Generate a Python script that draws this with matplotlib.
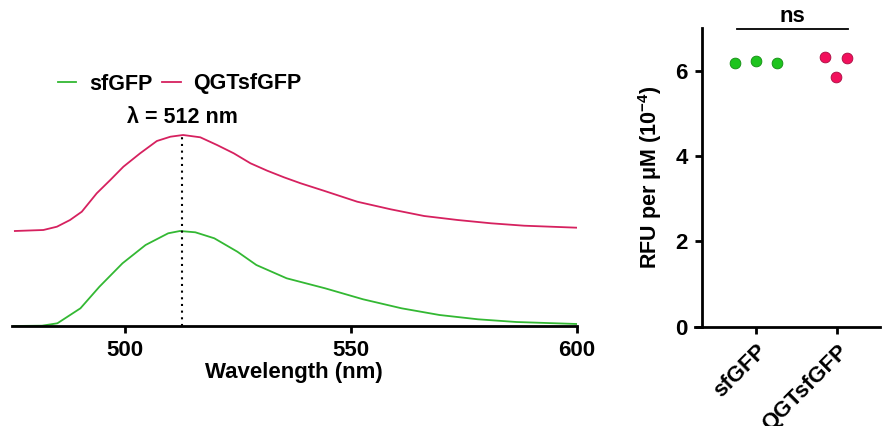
import matplotlib.pyplot as plt
import numpy as np
from matplotlib.lines import Line2D

plt.rcParams['font.family'] = ['Liberation Sans', 'DejaVu Sans']
plt.rcParams['font.weight'] = 'bold'
plt.rcParams['mathtext.fontset'] = 'custom'
plt.rcParams['mathtext.rm'] = 'Liberation Sans:bold'
plt.rcParams['mathtext.bf'] = 'Liberation Sans:bold'
plt.rcParams['mathtext.default'] = 'bf'

# emission spectra (arbitrary units, curves offset as in the figure)
wl_sf = [475.4, 481.7, 485.1, 490.2, 494.4, 499.5, 504.6, 509.6, 512.2, 515.6,
         519.8, 524.9, 529.1, 535.8, 544.3, 552.7, 561.2, 569.6, 578.1, 586.6, 600.0]
em_sf = [0.0, 0.3, 2.7, 17.7, 39.3, 62.7, 81.0, 92.7, 95.0, 93.7,
         87.7, 74.3, 61.0, 47.7, 37.7, 26.7, 17.7, 11.0, 6.7, 4.0, 2.0]

wl_qgt = [475.7, 482.0, 485.0, 487.9, 490.5, 493.8, 496.8, 499.7, 503.4, 507.1,
          510.1, 512.9, 516.7, 520.4, 524.1, 527.8, 531.5, 535.2, 538.9, 544.0,
          551.4, 558.8, 566.2, 573.6, 581.0, 588.3, 600.0]
em_qgt = [95.0, 96.0, 99.3, 106.0, 114.3, 132.7, 146.0, 159.3, 172.7, 185.0,
          189.3, 191.0, 188.7, 181.0, 172.7, 162.7, 155.3, 148.7, 142.7, 135.3,
          124.3, 116.7, 110.0, 106.0, 102.7, 100.3, 98.3]

peak_wl = 512.7   # where the dotted line sits in the picture
peak_label = 'λ = 512 nm'

# brightness per protein
groups = ['sfGFP', 'QGTsfGFP']
rfu_sf = [6.19, 6.23, 6.19]
rfu_qgt = [6.32, 5.86, 6.31]
jit_sf = [-0.26, 0.0, 0.26]
jit_qgt = [-0.148, -0.012, 0.123]

green = '#33b833'
magenta = '#d6215f'

fig = plt.figure(figsize=(8.83, 4.26), dpi=100)

#%% spectra
ax1 = fig.add_axes([11.7/883, 100/426, 565.3/883, 326/426])
ax1.plot(wl_sf, em_sf, color=green, lw=1.3, label='sfGFP')
ax1.plot(wl_qgt, em_qgt, color=magenta, lw=1.3, label='QGTsfGFP')
ax1.vlines(peak_wl, 0, max(em_qgt), colors='black', linestyles=(0, (1, 2.2)), lw=1.5)
ax1.text(peak_wl, 198, peak_label, ha='center', va='bottom', fontsize=15.5, fontweight='bold')
ax1.set_xlim(475, 600)
ax1.set_ylim(0, 326)
for s in ['left', 'top', 'right']:
    ax1.spines[s].set_visible(False)
ax1.spines['bottom'].set_linewidth(2)
ax1.set_yticks([])
ax1.set_xticks([500, 550, 600])
ax1.tick_params(axis='x', length=5, width=2, labelsize=16, pad=5)
ax1.set_xlabel('Wavelength (nm)', fontsize=16, fontweight='bold', labelpad=1)

hand = [Line2D([], [], color=green, lw=1.3), Line2D([], [], color=magenta, lw=1.3)]
ax1.legend(hand, groups, loc='center left', bbox_to_anchor=(58/883, 1-84/426),
           bbox_transform=fig.transFigure, ncol=2, frameon=False, fontsize=15.5,
           handlelength=0.85, handletextpad=0.6, columnspacing=0.45,
           borderpad=0, borderaxespad=0)

#%% dot plot
ax2 = fig.add_axes([695/883, 99.3/426, 185/883, 298.4/426])
ax2.scatter(np.array(jit_sf) + 0, rfu_sf, s=60, color='#1ec41e', edgecolors='#128a12',
            linewidths=0.6, zorder=3, clip_on=False)
ax2.scatter(np.array(jit_qgt) + 1, rfu_qgt, s=60, color='#f2105c', edgecolors='#a80a40',
            linewidths=0.6, zorder=3, clip_on=False)
ax2.set_xlim(-0.75, 1.53)
ax2.set_ylim(0, 7)
ax2.spines['left'].set_position(('data', -0.668))
ax2.spines['top'].set_visible(False)
ax2.spines['right'].set_visible(False)
ax2.spines['left'].set_linewidth(2)
ax2.spines['bottom'].set_linewidth(2)
ax2.set_yticks([0, 2, 4, 6])
ax2.set_xticks([0, 1])
ax2.set_xticklabels(groups, rotation=45, ha='right', rotation_mode='anchor')
ax2.tick_params(length=5, width=2, labelsize=16)
ax2.tick_params(axis='x', pad=5)
ax2.tick_params(axis='y', pad=5)
ax2.set_ylabel('RFU per μM (10$^{-4}$)', fontsize=15.5, fontweight='bold', labelpad=8)

ax2.plot([-0.237, 1.135], [6.98, 6.98], color='black', lw=1.3, clip_on=False)
ax2.text(0.455, 7.03, 'ns', ha='center', va='bottom', fontsize=16, fontweight='bold')

fig.savefig('out.png', dpi=100)
